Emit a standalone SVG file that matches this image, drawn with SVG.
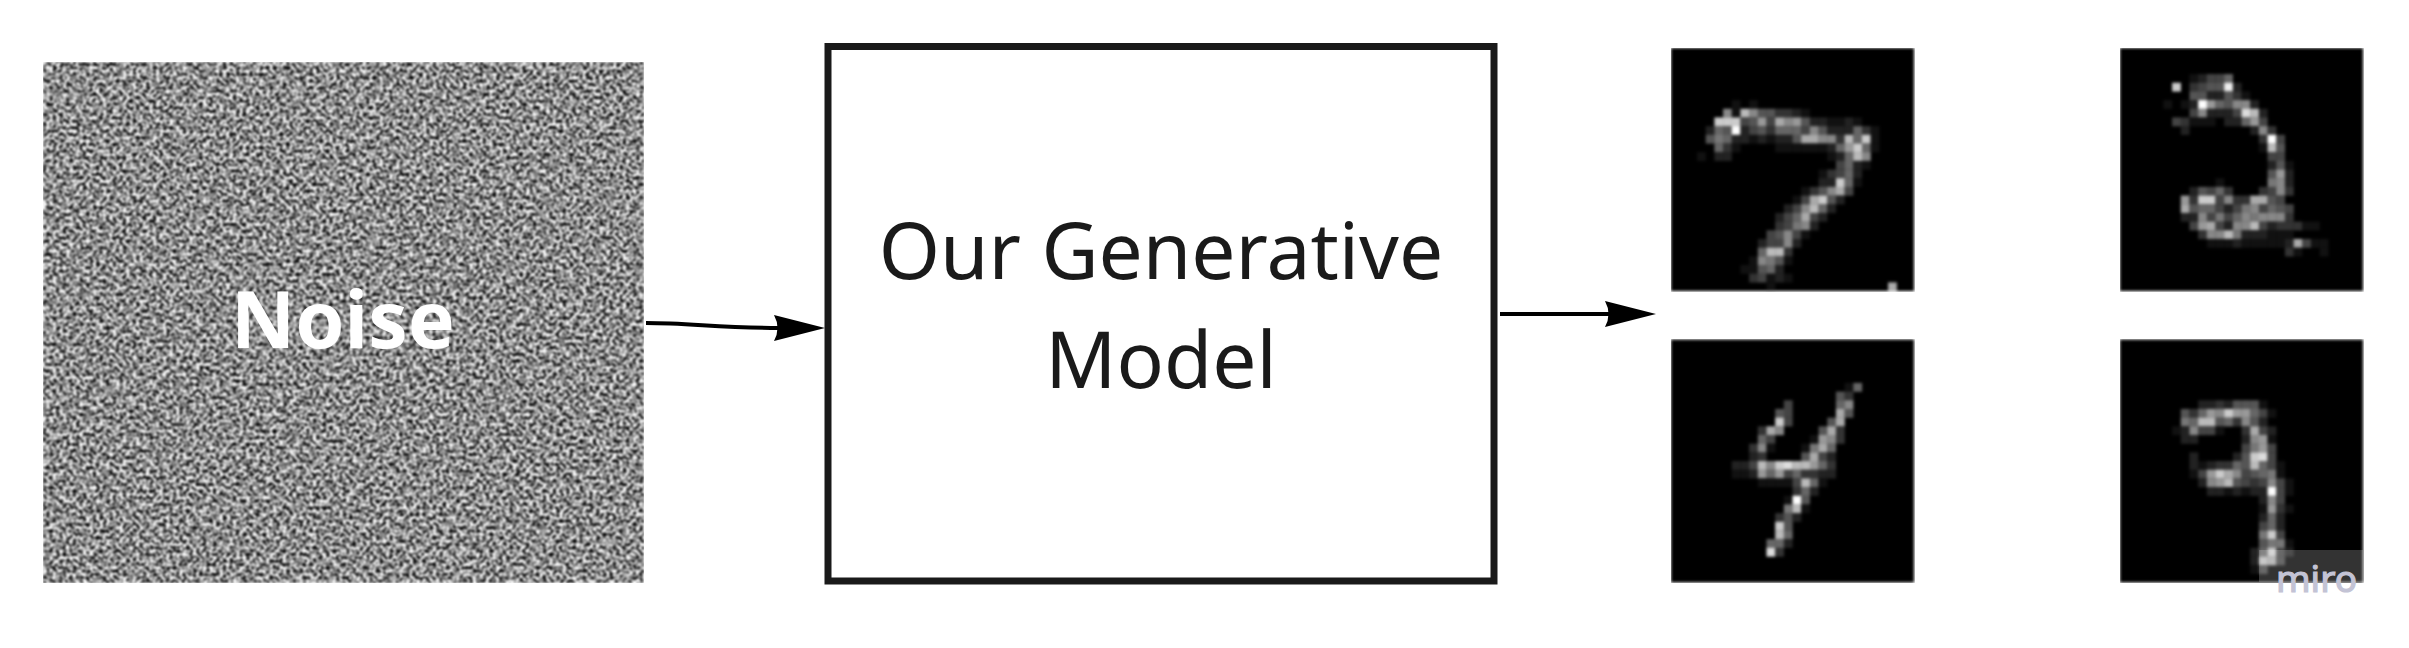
<svg xmlns="http://www.w3.org/2000/svg" width="2409" height="648" viewBox="0 0 2409 648">
<style>
.px rect{width:1.02px;height:1.02px}
.conn{fill:none;stroke:#000;stroke-width:4}
.t{font-family:"Noto Sans","Open Sans",sans-serif;fill:#1a1a1a;font-size:78.500px;text-anchor:middle}
</style>
<defs>
<filter id="noiseF" x="0" y="0" width="1" height="1" color-interpolation-filters="sRGB">
<feTurbulence type="fractalNoise" baseFrequency="0.3" numOctaves="3" seed="7"/>
<feColorMatrix type="matrix" values="3.2 0 0 0 -1.05  3.2 0 0 0 -1.05  3.2 0 0 0 -1.05  0 0 0 0 1"/>
<feGaussianBlur stdDeviation="0.9"/>
</filter>
<filter id="soft" x="0" y="0" width="1" height="1" color-interpolation-filters="sRGB">
<feGaussianBlur stdDeviation="0.2"/>
</filter>
<marker id="head" markerUnits="userSpaceOnUse" markerWidth="56" markerHeight="30" refX="6" refY="14" orient="auto">
<path d="M1 1L52 14L1 27Q8 14 1 1z" fill="#000"/>
</marker>
</defs>
<rect width="2409" height="648" fill="#fff"/>
<g id="noise">
<rect x="43" y="62" width="601" height="521" fill="#888" filter="url(#noiseF)"/>
<text x="343" y="348" font-family="'Noto Sans','Open Sans',sans-serif" font-weight="700" font-size="79" fill="#fff" text-anchor="middle">Noise</text>
</g>
<g id="model">
<rect x="828" y="46.500" width="666" height="534.500" fill="#fff" stroke="#1a1a1a" stroke-width="7"/>
<text class="t" x="1161" y="279">Our Generative</text>
<text class="t" x="1161" y="388">Model</text>
</g>
<g id="connectors">
<path class="conn" d="M646 323C690 323 720 328 779 328" marker-end="url(#head)"/>
<path class="conn" d="M1500 314L1610 314" marker-end="url(#head)"/>
</g>
<g id="digit-7" transform="translate(1671 48) scale(8.68)" filter="url(#soft)">
<path d="M0 0h28v28h-28z" fill="#000"/>
<g class="px">
<rect x="9" y="6" fill="#111"/><rect x="7" y="6" fill="#111"/>
<rect x="6" y="7" fill="#888"/><rect x="7" y="7" fill="#111"/><rect x="8" y="7" fill="#bbb"/><rect x="9" y="7" fill="#888"/><rect x="10" y="7" fill="#555"/><rect x="11" y="7" fill="#555"/><rect x="12" y="7" fill="#333"/><rect x="13" y="7" fill="#333"/><rect x="14" y="7" fill="#222"/><rect x="15" y="7" fill="#111"/>
<rect x="5" y="8" fill="#ccc"/><rect x="6" y="8" fill="#ccc"/><rect x="7" y="8" fill="#ccc"/><rect x="8" y="8" fill="#444"/><rect x="9" y="8" fill="#555"/><rect x="10" y="8" fill="#999"/><rect x="11" y="8" fill="#444"/><rect x="12" y="8" fill="#aaa"/><rect x="13" y="8" fill="#888"/><rect x="14" y="8" fill="#999"/><rect x="15" y="8" fill="#555"/><rect x="16" y="8" fill="#222"/><rect x="17" y="8" fill="#222"/><rect x="18" y="8" fill="#111"/><rect x="19" y="8" fill="#111"/><rect x="20" y="8" fill="#222"/><rect x="21" y="8" fill="#111"/>
<rect x="4" y="9" fill="#222"/><rect x="5" y="9" fill="#666"/><rect x="6" y="9" fill="#555"/><rect x="7" y="9" fill="#fff"/><rect x="8" y="9" fill="#222"/><rect x="9" y="9" fill="#444"/><rect x="10" y="9" fill="#555"/><rect x="11" y="9" fill="#333"/><rect x="12" y="9" fill="#666"/><rect x="13" y="9" fill="#666"/><rect x="14" y="9" fill="#666"/><rect x="15" y="9" fill="#444"/><rect x="16" y="9" fill="#888"/><rect x="17" y="9" fill="#555"/><rect x="18" y="9" fill="#222"/><rect x="19" y="9" fill="#222"/><rect x="20" y="9" fill="#222"/><rect x="21" y="9" fill="#666"/><rect x="22" y="9" fill="#333"/><rect x="23" y="9" fill="#111"/>
<rect x="4" y="10" fill="#555"/><rect x="5" y="10" fill="#777"/><rect x="6" y="10" fill="#666"/><rect x="7" y="10" fill="#222"/><rect x="8" y="10" fill="#222"/><rect x="9" y="10" fill="#111"/><rect x="10" y="10" fill="#222"/><rect x="11" y="10" fill="#111"/><rect x="12" y="10" fill="#222"/><rect x="13" y="10" fill="#222"/><rect x="14" y="10" fill="#555"/><rect x="15" y="10" fill="#aaa"/><rect x="16" y="10" fill="#aaa"/><rect x="17" y="10" fill="#888"/><rect x="18" y="10" fill="#888"/><rect x="19" y="10" fill="#333"/><rect x="20" y="10" fill="#bbb"/><rect x="21" y="10" fill="#666"/><rect x="22" y="10" fill="#ccc"/><rect x="23" y="10" fill="#111"/>
<rect x="5" y="11" fill="#666"/><rect x="6" y="11" fill="#333"/><rect x="7" y="11" fill="#111"/><rect x="12" y="11" fill="#111"/><rect x="13" y="11" fill="#111"/><rect x="14" y="11" fill="#111"/><rect x="15" y="11" fill="#111"/><rect x="16" y="11" fill="#111"/><rect x="17" y="11" fill="#111"/><rect x="18" y="11" fill="#222"/><rect x="19" y="11" fill="#666"/><rect x="20" y="11" fill="#999"/><rect x="21" y="11" fill="#ccc"/><rect x="22" y="11" fill="#666"/><rect x="23" y="11" fill="#111"/>
<rect x="3" y="12" fill="#111"/><rect x="5" y="12" fill="#222"/><rect x="6" y="12" fill="#222"/><rect x="18" y="12" fill="#111"/><rect x="19" y="12" fill="#222"/><rect x="20" y="12" fill="#666"/><rect x="21" y="12" fill="#bbb"/><rect x="22" y="12" fill="#888"/>
<rect x="19" y="13" fill="#444"/><rect x="20" y="13" fill="#666"/><rect x="21" y="13" fill="#222"/><rect x="22" y="13" fill="#111"/>
<rect x="17" y="14" fill="#111"/><rect x="18" y="14" fill="#333"/><rect x="19" y="14" fill="#444"/><rect x="20" y="14" fill="#666"/><rect x="21" y="14" fill="#222"/>
<rect x="17" y="15" fill="#222"/><rect x="18" y="15" fill="#222"/><rect x="19" y="15" fill="#ccc"/><rect x="20" y="15" fill="#666"/><rect x="21" y="15" fill="#111"/>
<rect x="15" y="16" fill="#111"/><rect x="16" y="16" fill="#333"/><rect x="17" y="16" fill="#555"/><rect x="18" y="16" fill="#888"/><rect x="19" y="16" fill="#aaa"/><rect x="20" y="16" fill="#444"/>
<rect x="14" y="17" fill="#111"/><rect x="15" y="17" fill="#444"/><rect x="16" y="17" fill="#aaa"/><rect x="17" y="17" fill="#ccc"/><rect x="18" y="17" fill="#555"/><rect x="19" y="17" fill="#222"/>
<rect x="13" y="18" fill="#222"/><rect x="14" y="18" fill="#444"/><rect x="15" y="18" fill="#888"/><rect x="16" y="18" fill="#bbb"/><rect x="17" y="18" fill="#666"/><rect x="18" y="18" fill="#222"/>
<rect x="12" y="19" fill="#222"/><rect x="13" y="19" fill="#444"/><rect x="14" y="19" fill="#666"/><rect x="15" y="19" fill="#aaa"/><rect x="16" y="19" fill="#444"/><rect x="17" y="19" fill="#222"/>
<rect x="12" y="20" fill="#333"/><rect x="13" y="20" fill="#444"/><rect x="14" y="20" fill="#777"/><rect x="15" y="20" fill="#888"/><rect x="16" y="20" fill="#222"/>
<rect x="11" y="21" fill="#444"/><rect x="12" y="21" fill="#555"/><rect x="13" y="21" fill="#888"/><rect x="14" y="21" fill="#444"/><rect x="15" y="21" fill="#111"/>
<rect x="10" y="22" fill="#222"/><rect x="11" y="22" fill="#444"/><rect x="12" y="22" fill="#444"/><rect x="13" y="22" fill="#888"/><rect x="14" y="22" fill="#222"/>
<rect x="10" y="23" fill="#666"/><rect x="11" y="23" fill="#bbb"/><rect x="12" y="23" fill="#bbb"/><rect x="13" y="23" fill="#333"/>
<rect x="9" y="24" fill="#111"/><rect x="10" y="24" fill="#888"/><rect x="11" y="24" fill="#777"/><rect x="12" y="24" fill="#555"/><rect x="13" y="24" fill="#111"/>
<rect x="8" y="25" fill="#111"/><rect x="9" y="25" fill="#111"/><rect x="10" y="25" fill="#555"/><rect x="11" y="25" fill="#666"/><rect x="12" y="25" fill="#222"/>
<rect x="9" y="26" fill="#333"/><rect x="10" y="26" fill="#444"/><rect x="11" y="26" fill="#111"/><rect x="12" y="26" fill="#222"/><rect x="13" y="26" fill="#111"/>
<rect x="11" y="27" fill="#111"/><rect x="25" y="27" fill="#aaa"/>
</g>
</g>
<g id="digit-2" transform="translate(2120 48) scale(8.68)" filter="url(#soft)">
<path d="M0 0h28v28h-28z" fill="#000"/>
<g class="px">
<rect x="8" y="3" fill="#111"/><rect x="9" y="3" fill="#222"/><rect x="10" y="3" fill="#444"/><rect x="11" y="3" fill="#444"/><rect x="12" y="3" fill="#666"/>
<rect x="6" y="4" fill="#ccc"/><rect x="8" y="4" fill="#333"/><rect x="9" y="4" fill="#444"/><rect x="10" y="4" fill="#555"/><rect x="11" y="4" fill="#555"/><rect x="12" y="4" fill="#eee"/><rect x="13" y="4" fill="#222"/>
<rect x="8" y="5" fill="#555"/><rect x="9" y="5" fill="#555"/><rect x="10" y="5" fill="#222"/><rect x="11" y="5" fill="#222"/><rect x="12" y="5" fill="#555"/><rect x="13" y="5" fill="#333"/><rect x="14" y="5" fill="#111"/>
<rect x="5" y="6" fill="#111"/><rect x="7" y="6" fill="#111"/><rect x="8" y="6" fill="#222"/><rect x="9" y="6" fill="#fff"/><rect x="10" y="6" fill="#999"/><rect x="11" y="6" fill="#666"/><rect x="12" y="6" fill="#555"/><rect x="13" y="6" fill="#888"/><rect x="14" y="6" fill="#888"/><rect x="15" y="6" fill="#222"/>
<rect x="8" y="7" fill="#444"/><rect x="9" y="7" fill="#888"/><rect x="10" y="7" fill="#222"/><rect x="11" y="7" fill="#222"/><rect x="12" y="7" fill="#222"/><rect x="13" y="7" fill="#444"/><rect x="14" y="7" fill="#ddd"/><rect x="15" y="7" fill="#bbb"/><rect x="16" y="7" fill="#222"/>
<rect x="6" y="8" fill="#444"/><rect x="7" y="8" fill="#333"/><rect x="8" y="8" fill="#111"/><rect x="9" y="8" fill="#111"/><rect x="10" y="8" fill="#111"/><rect x="12" y="8" fill="#222"/><rect x="13" y="8" fill="#222"/><rect x="14" y="8" fill="#666"/><rect x="15" y="8" fill="#999"/><rect x="16" y="8" fill="#444"/>
<rect x="7" y="9" fill="#222"/><rect x="15" y="9" fill="#222"/><rect x="16" y="9" fill="#888"/><rect x="17" y="9" fill="#333"/>
<rect x="16" y="10" fill="#333"/><rect x="17" y="10" fill="#fff"/><rect x="18" y="10" fill="#444"/>
<rect x="16" y="11" fill="#111"/><rect x="17" y="11" fill="#bbb"/><rect x="18" y="11" fill="#555"/>
<rect x="17" y="12" fill="#444"/><rect x="18" y="12" fill="#444"/>
<rect x="17" y="13" fill="#222"/><rect x="18" y="13" fill="#555"/><rect x="19" y="13" fill="#111"/>
<rect x="17" y="14" fill="#555"/><rect x="18" y="14" fill="#999"/><rect x="19" y="14" fill="#222"/>
<rect x="11" y="15" fill="#111"/><rect x="17" y="15" fill="#777"/><rect x="18" y="15" fill="#888"/><rect x="19" y="15" fill="#222"/>
<rect x="8" y="16" fill="#222"/><rect x="9" y="16" fill="#555"/><rect x="10" y="16" fill="#444"/><rect x="11" y="16" fill="#666"/><rect x="12" y="16" fill="#333"/><rect x="16" y="16" fill="#333"/><rect x="17" y="16" fill="#444"/><rect x="18" y="16" fill="#888"/><rect x="19" y="16" fill="#333"/>
<rect x="7" y="17" fill="#999"/><rect x="8" y="17" fill="#333"/><rect x="9" y="17" fill="#ccc"/><rect x="10" y="17" fill="#ccc"/><rect x="11" y="17" fill="#444"/><rect x="12" y="17" fill="#888"/><rect x="13" y="17" fill="#333"/><rect x="14" y="17" fill="#333"/><rect x="15" y="17" fill="#aaa"/><rect x="16" y="17" fill="#aaa"/><rect x="17" y="17" fill="#555"/><rect x="18" y="17" fill="#444"/>
<rect x="7" y="18" fill="#aaa"/><rect x="8" y="18" fill="#555"/><rect x="9" y="18" fill="#666"/><rect x="10" y="18" fill="#666"/><rect x="11" y="18" fill="#444"/><rect x="12" y="18" fill="#222"/><rect x="13" y="18" fill="#444"/><rect x="14" y="18" fill="#777"/><rect x="15" y="18" fill="#888"/><rect x="16" y="18" fill="#444"/><rect x="17" y="18" fill="#666"/><rect x="18" y="18" fill="#555"/><rect x="19" y="18" fill="#444"/>
<rect x="7" y="19" fill="#222"/><rect x="8" y="19" fill="#222"/><rect x="9" y="19" fill="#888"/><rect x="10" y="19" fill="#444"/><rect x="11" y="19" fill="#777"/><rect x="12" y="19" fill="#444"/><rect x="13" y="19" fill="#666"/><rect x="14" y="19" fill="#888"/><rect x="15" y="19" fill="#777"/><rect x="16" y="19" fill="#888"/><rect x="17" y="19" fill="#888"/><rect x="18" y="19" fill="#888"/><rect x="19" y="19" fill="#333"/>
<rect x="8" y="20" fill="#444"/><rect x="9" y="20" fill="#999"/><rect x="10" y="20" fill="#aaa"/><rect x="11" y="20" fill="#444"/><rect x="12" y="20" fill="#222"/><rect x="13" y="20" fill="#888"/><rect x="14" y="20" fill="#888"/><rect x="15" y="20" fill="#bbb"/><rect x="16" y="20" fill="#444"/><rect x="17" y="20" fill="#222"/><rect x="18" y="20" fill="#333"/><rect x="19" y="20" fill="#333"/><rect x="20" y="20" fill="#333"/><rect x="21" y="20" fill="#111"/><rect x="22" y="20" fill="#111"/>
<rect x="9" y="21" fill="#333"/><rect x="10" y="21" fill="#888"/><rect x="11" y="21" fill="#888"/><rect x="12" y="21" fill="#bbb"/><rect x="13" y="21" fill="#777"/><rect x="14" y="21" fill="#222"/><rect x="15" y="21" fill="#222"/><rect x="16" y="21" fill="#222"/><rect x="17" y="21" fill="#111"/><rect x="18" y="21" fill="#111"/><rect x="19" y="21" fill="#111"/>
<rect x="10" y="22" fill="#111"/><rect x="11" y="22" fill="#111"/><rect x="12" y="22" fill="#111"/><rect x="13" y="22" fill="#222"/><rect x="14" y="22" fill="#111"/><rect x="15" y="22" fill="#111"/><rect x="16" y="22" fill="#111"/><rect x="17" y="22" fill="#111"/><rect x="18" y="22" fill="#111"/><rect x="19" y="22" fill="#222"/><rect x="20" y="22" fill="#aaa"/><rect x="21" y="22" fill="#444"/><rect x="22" y="22" fill="#111"/><rect x="23" y="22" fill="#111"/>
<rect x="19" y="23" fill="#333"/><rect x="20" y="23" fill="#111"/><rect x="23" y="23" fill="#111"/>
</g>
</g>
<g id="digit-4" transform="translate(1671 339.500) scale(8.68)" filter="url(#soft)">
<path d="M0 0h28v28h-28z" fill="#000"/>
<g class="px">
<rect x="20" y="5" fill="#111"/><rect x="21" y="5" fill="#666"/>
<rect x="19" y="6" fill="#555"/><rect x="20" y="6" fill="#333"/>
<rect x="13" y="7" fill="#444"/><rect x="19" y="7" fill="#666"/><rect x="20" y="7" fill="#888"/>
<rect x="12" y="8" fill="#555"/><rect x="13" y="8" fill="#444"/><rect x="19" y="8" fill="#aaa"/><rect x="20" y="8" fill="#555"/>
<rect x="12" y="9" fill="#ccc"/><rect x="13" y="9" fill="#444"/><rect x="18" y="9" fill="#555"/><rect x="19" y="9" fill="#aaa"/>
<rect x="10" y="10" fill="#333"/><rect x="11" y="10" fill="#aaa"/><rect x="12" y="10" fill="#888"/><rect x="17" y="10" fill="#555"/><rect x="18" y="10" fill="#aaa"/><rect x="19" y="10" fill="#333"/>
<rect x="10" y="11" fill="#666"/><rect x="11" y="11" fill="#444"/><rect x="16" y="11" fill="#111"/><rect x="17" y="11" fill="#999"/><rect x="18" y="11" fill="#888"/><rect x="19" y="11" fill="#333"/>
<rect x="9" y="12" fill="#333"/><rect x="10" y="12" fill="#888"/><rect x="11" y="12" fill="#111"/><rect x="15" y="12" fill="#111"/><rect x="16" y="12" fill="#777"/><rect x="17" y="12" fill="#aaa"/><rect x="18" y="12" fill="#666"/>
<rect x="9" y="13" fill="#222"/><rect x="10" y="13" fill="#333"/><rect x="15" y="13" fill="#555"/><rect x="16" y="13" fill="#aaa"/><rect x="17" y="13" fill="#444"/><rect x="18" y="13" fill="#222"/>
<rect x="8" y="14" fill="#222"/><rect x="9" y="14" fill="#444"/><rect x="10" y="14" fill="#bbb"/><rect x="11" y="14" fill="#888"/><rect x="12" y="14" fill="#ccc"/><rect x="13" y="14" fill="#ddd"/><rect x="14" y="14" fill="#bbb"/><rect x="15" y="14" fill="#bbb"/><rect x="16" y="14" fill="#999"/><rect x="17" y="14" fill="#666"/><rect x="18" y="14" fill="#333"/><rect x="7" y="14" fill="#222"/>
<rect x="7" y="15" fill="#111"/><rect x="8" y="15" fill="#111"/><rect x="9" y="15" fill="#222"/><rect x="10" y="15" fill="#999"/><rect x="11" y="15" fill="#666"/><rect x="12" y="15" fill="#999"/><rect x="13" y="15" fill="#444"/><rect x="14" y="15" fill="#666"/><rect x="15" y="15" fill="#333"/><rect x="16" y="15" fill="#333"/><rect x="17" y="15" fill="#222"/><rect x="18" y="15" fill="#222"/>
<rect x="10" y="16" fill="#111"/><rect x="11" y="16" fill="#111"/><rect x="12" y="16" fill="#111"/><rect x="13" y="16" fill="#111"/><rect x="14" y="16" fill="#444"/><rect x="15" y="16" fill="#bbb"/><rect x="16" y="16" fill="#666"/><rect x="17" y="16" fill="#111"/>
<rect x="14" y="17" fill="#333"/><rect x="15" y="17" fill="#666"/><rect x="16" y="17" fill="#222"/>
<rect x="13" y="18" fill="#111"/><rect x="14" y="18" fill="#fff"/><rect x="15" y="18" fill="#555"/>
<rect x="13" y="19" fill="#777"/><rect x="14" y="19" fill="#bbb"/><rect x="15" y="19" fill="#111"/>
<rect x="12" y="20" fill="#333"/><rect x="13" y="20" fill="#555"/><rect x="14" y="20" fill="#222"/>
<rect x="12" y="21" fill="#ccc"/><rect x="13" y="21" fill="#555"/>
<rect x="12" y="22" fill="#bbb"/><rect x="13" y="22" fill="#666"/>
<rect x="11" y="23" fill="#666"/><rect x="12" y="23" fill="#666"/><rect x="13" y="23" fill="#222"/>
<rect x="11" y="24" fill="#ddd"/><rect x="12" y="24" fill="#333"/>
</g>
</g>
<g id="digit-9" transform="translate(2120 339.500) scale(8.68)" filter="url(#soft)">
<path d="M0 0h28v28h-28z" fill="#000"/>
<g class="px">
<rect x="9" y="7" fill="#222"/><rect x="10" y="7" fill="#222"/><rect x="11" y="7" fill="#333"/><rect x="12" y="7" fill="#222"/><rect x="13" y="7" fill="#555"/><rect x="14" y="7" fill="#555"/><rect x="15" y="7" fill="#555"/><rect x="16" y="7" fill="#111"/>
<rect x="7" y="8" fill="#555"/><rect x="8" y="8" fill="#333"/><rect x="9" y="8" fill="#666"/><rect x="10" y="8" fill="#999"/><rect x="11" y="8" fill="#888"/><rect x="12" y="8" fill="#ccc"/><rect x="13" y="8" fill="#999"/><rect x="14" y="8" fill="#999"/><rect x="15" y="8" fill="#666"/><rect x="16" y="8" fill="#444"/><rect x="17" y="8" fill="#111"/>
<rect x="7" y="9" fill="#777"/><rect x="8" y="9" fill="#666"/><rect x="9" y="9" fill="#bbb"/><rect x="10" y="9" fill="#bbb"/><rect x="11" y="9" fill="#555"/><rect x="12" y="9" fill="#666"/><rect x="13" y="9" fill="#333"/><rect x="14" y="9" fill="#888"/><rect x="15" y="9" fill="#555"/><rect x="16" y="9" fill="#222"/>
<rect x="6" y="10" fill="#111"/><rect x="7" y="10" fill="#222"/><rect x="8" y="10" fill="#888"/><rect x="9" y="10" fill="#444"/><rect x="10" y="10" fill="#444"/><rect x="11" y="10" fill="#111"/><rect x="14" y="10" fill="#333"/><rect x="15" y="10" fill="#aaa"/><rect x="16" y="10" fill="#444"/><rect x="17" y="10" fill="#222"/>
<rect x="7" y="11" fill="#222"/><rect x="8" y="11" fill="#222"/><rect x="14" y="11" fill="#222"/><rect x="15" y="11" fill="#888"/><rect x="16" y="11" fill="#999"/><rect x="17" y="11" fill="#111"/>
<rect x="14" y="12" fill="#444"/><rect x="15" y="12" fill="#777"/><rect x="16" y="12" fill="#999"/><rect x="17" y="12" fill="#444"/>
<rect x="8" y="13" fill="#222"/><rect x="13" y="13" fill="#222"/><rect x="14" y="13" fill="#555"/><rect x="15" y="13" fill="#ccc"/><rect x="16" y="13" fill="#ddd"/><rect x="17" y="13" fill="#444"/>
<rect x="8" y="14" fill="#222"/><rect x="9" y="14" fill="#111"/><rect x="10" y="14" fill="#222"/><rect x="11" y="14" fill="#333"/><rect x="12" y="14" fill="#333"/><rect x="13" y="14" fill="#666"/><rect x="14" y="14" fill="#555"/><rect x="15" y="14" fill="#bbb"/><rect x="16" y="14" fill="#666"/><rect x="17" y="14" fill="#444"/><rect x="18" y="14" fill="#111"/>
<rect x="8" y="15" fill="#111"/><rect x="9" y="15" fill="#444"/><rect x="10" y="15" fill="#999"/><rect x="11" y="15" fill="#ccc"/><rect x="12" y="15" fill="#aaa"/><rect x="13" y="15" fill="#888"/><rect x="14" y="15" fill="#444"/><rect x="15" y="15" fill="#555"/><rect x="16" y="15" fill="#666"/><rect x="17" y="15" fill="#777"/><rect x="18" y="15" fill="#111"/>
<rect x="9" y="16" fill="#222"/><rect x="10" y="16" fill="#888"/><rect x="11" y="16" fill="#999"/><rect x="12" y="16" fill="#bbb"/><rect x="13" y="16" fill="#555"/><rect x="14" y="16" fill="#444"/><rect x="15" y="16" fill="#333"/><rect x="16" y="16" fill="#444"/><rect x="17" y="16" fill="#888"/><rect x="18" y="16" fill="#444"/><rect x="19" y="16" fill="#111"/>
<rect x="10" y="17" fill="#222"/><rect x="11" y="17" fill="#222"/><rect x="12" y="17" fill="#111"/><rect x="13" y="17" fill="#222"/><rect x="14" y="17" fill="#111"/><rect x="15" y="17" fill="#222"/><rect x="16" y="17" fill="#222"/><rect x="17" y="17" fill="#fff"/><rect x="18" y="17" fill="#444"/><rect x="19" y="17" fill="#111"/>
<rect x="16" y="18" fill="#222"/><rect x="17" y="18" fill="#888"/><rect x="18" y="18" fill="#444"/>
<rect x="16" y="19" fill="#111"/><rect x="17" y="19" fill="#999"/><rect x="18" y="19" fill="#333"/><rect x="19" y="19" fill="#111"/>
<rect x="16" y="20" fill="#222"/><rect x="17" y="20" fill="#666"/><rect x="18" y="20" fill="#222"/>
<rect x="16" y="21" fill="#444"/><rect x="17" y="21" fill="#666"/><rect x="18" y="21" fill="#222"/>
<rect x="16" y="22" fill="#777"/><rect x="17" y="22" fill="#ccc"/><rect x="18" y="22" fill="#444"/>
<rect x="16" y="23" fill="#555"/><rect x="17" y="23" fill="#777"/><rect x="18" y="23" fill="#777"/><rect x="19" y="23" fill="#111"/>
<rect x="15" y="24" fill="#222"/><rect x="16" y="24" fill="#666"/><rect x="17" y="24" fill="#ccc"/><rect x="18" y="24" fill="#444"/><rect x="19" y="24" fill="#222"/>
<rect x="15" y="25" fill="#222"/><rect x="16" y="25" fill="#bbb"/><rect x="17" y="25" fill="#aaa"/><rect x="18" y="25" fill="#444"/>
<rect x="15" y="26" fill="#111"/><rect x="16" y="26" fill="#444"/>
</g>
</g>
<g id="watermark">
<rect x="2259" y="550" width="104" height="32" fill="#fff" fill-opacity="0.2"/>
<text x="2276" y="592" font-family="'Noto Sans','Open Sans',sans-serif" font-size="37" stroke="#c3c3d5" stroke-width="1.200" fill="#c3c3d5">miro</text>
</g>
</svg>
